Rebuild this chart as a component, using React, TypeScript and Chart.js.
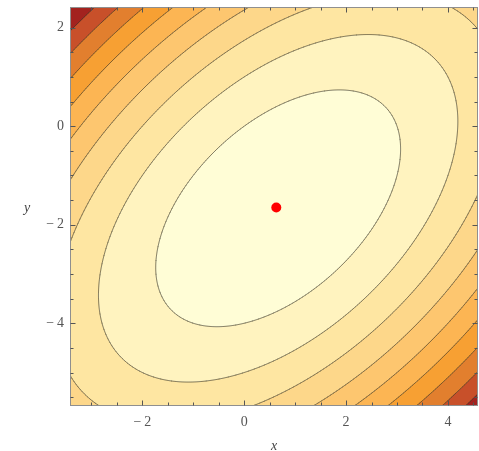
import React, { useEffect, useRef } from "react";
import { Chart, registerables } from "chart.js";

Chart.register(...registerables);

// f(x, y) = a·x² + b·x·y + c·y² + d·x + e·y
const FUNCTION_COEFFS = [1, -1, 1, -3, 4];
const CONTOUR_LEVELS = [0, 5, 10, 15, 20, 25, 30, 35, 40];
const BAND_COLORS = [
  "#FFFDD6",
  "#FFF3BF",
  "#FEE6A2",
  "#FDD78A",
  "#FDC66F",
  "#FCB553",
  "#F7A033",
  "#E27F2E",
  "#C8502A",
  "#A3221F",
];
const MIN_POINT_X = [0.63];
const MIN_POINT_Y = [-1.65];
const X_LIMITS = [-3.42, 4.59];
const Y_LIMITS = [-5.68, 2.42];
const X_TICKS = [-2, 0, 2, 4];
const Y_TICKS = [-4, -2, 0, 2];
const MINOR_STEP = 0.5;

const W = 479;
const H = 451;

function fval(x: number, y: number) {
  const [a, b, c, d, e] = FUNCTION_COEFFS;
  return a * x * x + b * x * y + c * y * y + d * x + e * y;
}

function hexToRgb(h: string) {
  const n = parseInt(h.slice(1), 16);
  return [(n >> 16) & 255, (n >> 8) & 255, n & 255];
}

function fmt(v: number) {
  if (v < 0) return "\u2212\u2009" + Math.abs(v);
  return String(v);
}

const contourPlugin = {
  id: "contourFill",
  beforeDatasetsDraw(chart: any) {
    const { ctx, chartArea, scales } = chart;
    const xs = scales.x;
    const ys = scales.y;
    const L = Math.round(chartArea.left);
    const T = Math.round(chartArea.top);
    const w = Math.round(chartArea.right) - L;
    const h = Math.round(chartArea.bottom) - T;
    const xv = new Float64Array(w);
    const yv = new Float64Array(h);
    for (let i = 0; i < w; i++) xv[i] = xs.getValueForPixel(L + i + 0.5);
    for (let j = 0; j < h; j++) yv[j] = ys.getValueForPixel(T + j + 0.5);
    const rgb = BAND_COLORS.map(hexToRgb);
    const img = ctx.createImageData(w, h);
    const d = img.data;
    for (let j = 0; j < h; j++) {
      for (let i = 0; i < w; i++) {
        const v = fval(xv[i], yv[j]);
        let band = 0;
        for (let k = 0; k < CONTOUR_LEVELS.length; k++) if (v >= CONTOUR_LEVELS[k]) band = k + 1;
        const c = rgb[band];
        const p = (j * w + i) * 4;
        d[p] = c[0];
        d[p + 1] = c[1];
        d[p + 2] = c[2];
        d[p + 3] = 255;
      }
    }
    ctx.putImageData(img, L, T);

    // contour lines (marching squares on a 2px grid)
    const step = 2;
    const gx: number[] = [];
    const gy: number[] = [];
    for (let px = L; px <= L + w + step; px += step) gx.push(px);
    for (let py = T; py <= T + h + step; py += step) gy.push(py);
    const gxv = gx.map((p) => xs.getValueForPixel(p));
    const gyv = gy.map((p) => ys.getValueForPixel(p));
    const grid: number[][] = gy.map((_, j) => gx.map((__, i) => fval(gxv[i], gyv[j])));

    ctx.save();
    ctx.beginPath();
    ctx.rect(L, T, w, h);
    ctx.clip();
    ctx.strokeStyle = "rgba(60,55,40,0.55)";
    ctx.lineWidth = 0.9;
    ctx.lineCap = "round";
    for (const k of CONTOUR_LEVELS) {
      ctx.beginPath();
      for (let j = 0; j < gy.length - 1; j++) {
        for (let i = 0; i < gx.length - 1; i++) {
          const a = grid[j][i];
          const b = grid[j][i + 1];
          const c = grid[j + 1][i + 1];
          const dd = grid[j + 1][i];
          const pts: number[][] = [];
          const x0 = gx[i], x1 = gx[i + 1], y0 = gy[j], y1 = gy[j + 1];
          if ((a - k) * (b - k) < 0) pts.push([x0 + ((k - a) / (b - a)) * (x1 - x0), y0]);
          if ((b - k) * (c - k) < 0) pts.push([x1, y0 + ((k - b) / (c - b)) * (y1 - y0)]);
          if ((dd - k) * (c - k) < 0) pts.push([x0 + ((k - dd) / (c - dd)) * (x1 - x0), y1]);
          if ((a - k) * (dd - k) < 0) pts.push([x0, y0 + ((k - a) / (dd - a)) * (y1 - y0)]);
          for (let q = 0; q + 1 < pts.length; q += 2) {
            ctx.moveTo(pts[q][0], pts[q][1]);
            ctx.lineTo(pts[q + 1][0], pts[q + 1][1]);
          }
        }
      }
      ctx.stroke();
    }
    ctx.restore();
  },
  afterDatasetsDraw(chart: any) {
    const { ctx, chartArea, scales } = chart;
    const xs = scales.x;
    const ys = scales.y;
    const L = Math.round(chartArea.left) + 0.5;
    const T = Math.round(chartArea.top) + 0.5;
    const R = Math.round(chartArea.right) - 0.5;
    const B = Math.round(chartArea.bottom) - 0.5;
    ctx.save();
    ctx.strokeStyle = "#8f8f8f";
    ctx.lineWidth = 1;
    ctx.strokeRect(L, T, R - L, B - T);
    ctx.strokeStyle = "#555";
    ctx.beginPath();
    const majorLen = 5;
    const minorLen = 3;
    for (let v = Math.ceil(X_LIMITS[0] / MINOR_STEP) * MINOR_STEP; v <= X_LIMITS[1]; v += MINOR_STEP) {
      const isMajor = X_TICKS.some((t) => Math.abs(t - v) < 1e-6);
      const len = isMajor ? majorLen : minorLen;
      const px = Math.round(xs.getPixelForValue(v)) + 0.5;
      ctx.moveTo(px, B);
      ctx.lineTo(px, B - len);
      ctx.moveTo(px, T);
      ctx.lineTo(px, T + len);
    }
    for (let v = Math.ceil(Y_LIMITS[0] / MINOR_STEP) * MINOR_STEP; v <= Y_LIMITS[1]; v += MINOR_STEP) {
      const isMajor = Y_TICKS.some((t) => Math.abs(t - v) < 1e-6);
      const len = isMajor ? majorLen : minorLen;
      const py = Math.round(ys.getPixelForValue(v)) + 0.5;
      ctx.moveTo(L, py);
      ctx.lineTo(L + len, py);
      ctx.moveTo(R, py);
      ctx.lineTo(R - len, py);
    }
    ctx.stroke();
    // upright y frame label
    ctx.fillStyle = "#444";
    ctx.font = "italic 14px 'Liberation Serif', 'DejaVu Serif', serif";
    ctx.textAlign = "center";
    ctx.textBaseline = "middle";
    ctx.fillText("y", 27, (chartArea.top + chartArea.bottom) / 2 + 2);
    ctx.restore();
  },
};

function zeroPad(axis: any) {
  axis.paddingTop = 0;
  axis.paddingBottom = 0;
  axis.paddingLeft = 0;
  axis.paddingRight = 0;
}

export default function App() {
  const ref = useRef<HTMLCanvasElement | null>(null);
  useEffect(() => {
    if (!ref.current) return;
    const tickFont = { family: "'Liberation Serif', 'DejaVu Serif', serif", size: 14 };
    const chart = new Chart(ref.current, {
      type: "scatter",
      data: {
        datasets: [
          {
            label: "minimum",
            data: MIN_POINT_X.map((x, i) => ({ x, y: MIN_POINT_Y[i] })),
            backgroundColor: "#FF0000",
            borderWidth: 0,
            pointRadius: 5,
            pointHoverRadius: 5,
          },
        ],
      },
      options: {
        responsive: false,
        animation: false,
        events: [],
        layout: { autoPadding: false, padding: { top: 7, right: 1, left: 0, bottom: 0 } },
        plugins: { legend: { display: false }, tooltip: { enabled: false } },
        scales: {
          x: {
            type: "linear",
            min: X_LIMITS[0],
            max: X_LIMITS[1],
            grid: { display: false, drawTicks: false },
            border: { display: false },
            afterBuildTicks: (axis: any) => {
              axis.ticks = X_TICKS.map((v) => ({ value: v }));
            },
            afterFit: (axis: any) => {
              axis.height = 45;
              zeroPad(axis);
            },
            ticks: {
              padding: 8,
              color: "#555",
              font: tickFont,
              maxRotation: 0,
              callback: (v: any) => fmt(Number(v)),
            },
            title: {
              display: true,
              text: "x",
              color: "#444",
              font: { family: "'Liberation Serif', 'DejaVu Serif', serif", size: 14, style: "italic", lineHeight: 0.6 },
              padding: { top: 0, bottom: 0 },
            },
          },
          y: {
            type: "linear",
            min: Y_LIMITS[0],
            max: Y_LIMITS[1],
            grid: { display: false, drawTicks: false },
            border: { display: false },
            afterBuildTicks: (axis: any) => {
              axis.ticks = Y_TICKS.map((v) => ({ value: v }));
            },
            afterFit: (axis: any) => {
              axis.width = 70;
              zeroPad(axis);
            },
            ticks: {
              padding: 6,
              color: "#555",
              font: tickFont,
              callback: (v: any) => fmt(Number(v)),
            },
          },
        },
      },
      plugins: [contourPlugin],
    });
    return () => chart.destroy();
  }, []);
  return (
    <div style={{ position: "absolute", left: 0, top: 0, width: W, height: H, background: "#fff" }}>
      <canvas ref={ref} width={W} height={H} style={{ display: "block" }} />
    </div>
  );
}
